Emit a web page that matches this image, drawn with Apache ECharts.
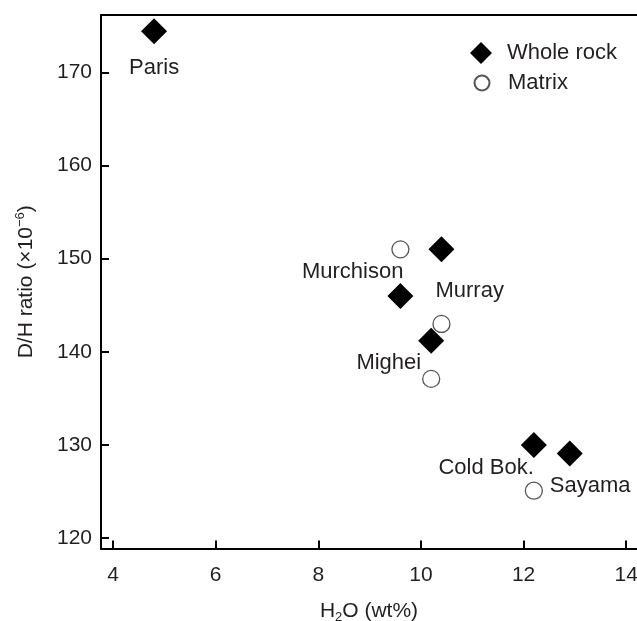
<!DOCTYPE html>
<html>
<head>
<meta charset="utf-8">
<script src="https://cdn.jsdelivr.net/npm/echarts@6/dist/echarts.min.js"></script>
<style>
  html, body { margin: 0; padding: 0; background: #fff; }
  #chart { width: 637px; height: 621px; }
</style>
</head>
<body>
<div id="chart"></div>
<script>
// ---- data ----
const wholeRockNames = ['Paris', 'Murchison', 'Murray', 'Mighei', 'Cold Bok.', 'Sayama'];
const wholeRockH2O   = [4.8, 9.6, 10.4, 10.2, 12.2, 12.9];
const wholeRockDH    = [174.4, 146.0, 151.0, 141.2, 130.0, 129.1];

const matrixNames = ['Murchison', 'Murray', 'Mighei', 'Cold Bok.'];
const matrixH2O   = [9.6, 10.4, 10.2, 12.2];
const matrixDH    = [151.0, 143.0, 137.1, 125.1];

const xTicks = [4, 6, 8, 10, 12, 14];
const yTicks = [120, 130, 140, 150, 160, 170];

// ---- label placement (style only) ----
const labelPlacement = {
  'Paris':     { align: 'center', offset: [0, 37] },
  'Murchison': { align: 'right',  offset: [3, -24] },
  'Murray':    { align: 'left',   offset: [-6, 42] },
  'Mighei':    { align: 'right',  offset: [-10, 22] },
  'Cold Bok.': { align: 'right',  offset: [0, 23] },
  'Sayama':    { align: 'left',   offset: [-20, 32] }
};

const FONT = "'Liberation Sans', Arial, Helvetica, sans-serif";
const TXT = '#231f20';

const chart = echarts.init(document.getElementById('chart'), null, { renderer: 'canvas' });

const wholeRockData = wholeRockNames.map((n, i) => {
  const p = labelPlacement[n];
  return {
    name: n,
    value: [wholeRockH2O[i], wholeRockDH[i]],
    label: {
      show: true,
      formatter: n,
      position: 'inside',
      align: p.align,
      verticalAlign: 'middle',
      offset: p.offset
    }
  };
});
const matrixData = matrixNames.map((n, i) => ({ name: n, value: [matrixH2O[i], matrixDH[i]] }));

const axisLineStyle = { color: '#000', width: 2 };

chart.setOption({
  animation: false,
  backgroundColor: '#fff',
  textStyle: { fontFamily: FONT, color: TXT },
  grid: { left: 101, right: 0, top: 15, bottom: 72.5, containLabel: false, outerBoundsMode: 'none' },
  legend: [
    {
      data: ['Whole rock'],
      orient: 'vertical',
      left: 470, top: 42, padding: 0,
      itemWidth: 22, itemHeight: 22,
      textStyle: { fontFamily: FONT, fontSize: 22, color: TXT, padding: [0, 0, 0, 10] }
    },
    {
      data: ['Matrix'],
      orient: 'vertical',
      left: 473.5, top: 72, padding: 0,
      itemWidth: 15, itemHeight: 15,
      textStyle: { fontFamily: FONT, fontSize: 22, color: TXT, padding: [0, 0, 0, 13.5] }
    }
  ],
  xAxis: [
    {
      type: 'value',
      min: 3.766, max: 14.21,
      name: 'H{sub|2}O (wt%)',
      nameLocation: 'middle',
      nameGap: 50,
      nameTextStyle: {
        fontFamily: FONT, fontSize: 21, color: TXT,
        rich: { sub: { fontFamily: FONT, fontSize: 13, color: TXT, padding: [12, 0, 0, 0] } }
      },
      axisLine: { show: true, onZero: false, lineStyle: axisLineStyle },
      axisTick: { show: true, inside: true, length: 8, customValues: xTicks, lineStyle: { color: '#000', width: 2 } },
      axisLabel: { show: true, customValues: xTicks, margin: 16, fontFamily: FONT, fontSize: 21, color: TXT },
      splitLine: { show: false }
    },
    {
      type: 'value',
      position: 'top',
      min: 3.766, max: 14.21,
      axisLine: { show: true, onZero: false, lineStyle: axisLineStyle },
      axisTick: { show: false },
      axisLabel: { show: false },
      splitLine: { show: false }
    }
  ],
  yAxis: {
    type: 'value',
    min: 118.9, max: 176.15,
    name: 'D/H ratio (×10{sup|−6})',
    nameLocation: 'middle',
    nameRotate: 90,
    nameGap: 62,
    nameTextStyle: {
      fontFamily: FONT, fontSize: 21, color: TXT,
      rich: { sup: { fontFamily: FONT, fontSize: 13, color: TXT, padding: [0, 0, 12, 0] } }
    },
    axisLine: { show: true, onZero: false, lineStyle: axisLineStyle },
    axisTick: { show: true, inside: true, length: 8, customValues: yTicks, lineStyle: { color: '#000', width: 2 } },
    axisLabel: { show: true, customValues: yTicks, margin: 9, fontFamily: FONT, fontSize: 21, color: TXT },
    splitLine: { show: false }
  },
  series: [
    {
      name: 'Whole rock',
      type: 'scatter',
      symbol: 'diamond',
      symbolSize: 26,
      itemStyle: { color: '#000', opacity: 1 },
      label: { fontFamily: FONT, fontSize: 22, color: TXT },
      emphasis: { disabled: true },
      data: wholeRockData,
      z: 3
    },
    {
      name: 'Matrix',
      type: 'scatter',
      symbol: 'circle',
      symbolSize: 17,
      itemStyle: { color: '#fff', borderColor: '#555', borderWidth: 1.3, opacity: 1 },
      emphasis: { disabled: true },
      data: matrixData,
      z: 2
    }
  ]
});
</script>
</body>
</html>
